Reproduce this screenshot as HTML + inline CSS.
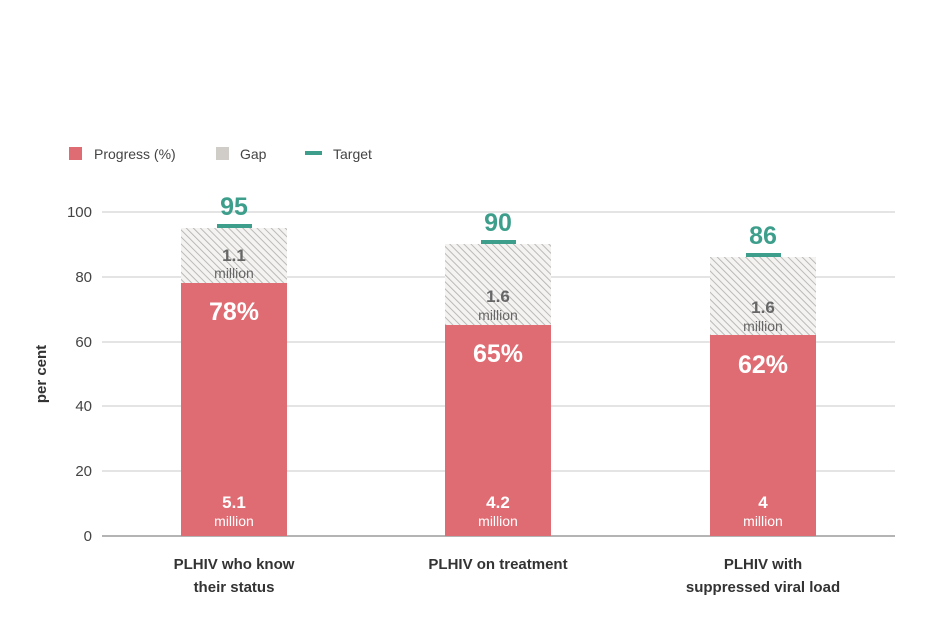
<!DOCTYPE html>
<html><head><meta charset="utf-8"><style>body{margin:0;background:#fff}svg{display:block}</style></head><body>
<svg width="944" height="637" viewBox="0 0 944 637" font-family="Liberation Sans, sans-serif">
<defs>
<pattern id="h" patternUnits="userSpaceOnUse" width="5" height="5" patternTransform="rotate(-45)">
<rect width="5" height="5" fill="#f4f3f2"/>
<line x1="0" y1="0" x2="0" y2="5" stroke="#b5b3b0" stroke-width="1.8"/>
</pattern>
</defs>
<rect x="69" y="147" width="13" height="13" fill="#e06c73"/>
<text x="94" y="159" font-size="14" fill="#444">Progress (%)</text>
<rect x="216" y="147" width="13" height="13" fill="#d0ccc8"/>
<text x="240" y="159" font-size="14" fill="#444">Gap</text>
<rect x="305" y="151" width="17" height="4" fill="#3d9e8c"/>
<text x="333" y="159" font-size="14" fill="#444">Target</text>
<g stroke="#c8c8c8" stroke-width="1">
<line x1="102" y1="212" x2="895" y2="212"/>
<line x1="102" y1="277" x2="895" y2="277"/>
<line x1="102" y1="342" x2="895" y2="342"/>
<line x1="102" y1="406" x2="895" y2="406"/>
<line x1="102" y1="471" x2="895" y2="471"/>
</g>
<line x1="102" y1="536" x2="895" y2="536" stroke="#888" stroke-width="1.2"/>
<g font-size="15" fill="#444" text-anchor="end">
<text x="92" y="217">100</text><text x="92" y="282">80</text><text x="92" y="347">60</text>
<text x="92" y="411">40</text><text x="92" y="476">20</text><text x="92" y="541">0</text>
</g>
<text transform="translate(46,374) rotate(-90)" font-size="15" font-weight="bold" fill="#333" text-anchor="middle">per cent</text>
<g>
<rect x="181" y="228" width="106" height="55" fill="url(#h)"/>
<rect x="181" y="283" width="106" height="253" fill="#e06c73"/>
<rect x="217" y="224" width="35" height="4" fill="#3d9e8c"/>
<text x="234" y="215" font-size="25" font-weight="bold" fill="#3d9e8c" text-anchor="middle">95</text>
<text x="234" y="261" font-size="17" font-weight="bold" fill="#666" text-anchor="middle">1.1</text>
<text x="234" y="278" font-size="14" fill="#666" text-anchor="middle">million</text>
<text x="234" y="320" font-size="25" font-weight="bold" fill="#fff" text-anchor="middle">78%</text>
<text x="234" y="508" font-size="17" font-weight="bold" fill="#fff" text-anchor="middle">5.1</text>
<text x="234" y="526" font-size="14" fill="#fff" text-anchor="middle">million</text>
</g>
<g>
<rect x="445" y="244" width="106" height="81" fill="url(#h)"/>
<rect x="445" y="325" width="106" height="211" fill="#e06c73"/>
<rect x="481" y="240" width="35" height="4" fill="#3d9e8c"/>
<text x="498" y="231" font-size="25" font-weight="bold" fill="#3d9e8c" text-anchor="middle">90</text>
<text x="498" y="302" font-size="17" font-weight="bold" fill="#666" text-anchor="middle">1.6</text>
<text x="498" y="320" font-size="14" fill="#666" text-anchor="middle">million</text>
<text x="498" y="362" font-size="25" font-weight="bold" fill="#fff" text-anchor="middle">65%</text>
<text x="498" y="508" font-size="17" font-weight="bold" fill="#fff" text-anchor="middle">4.2</text>
<text x="498" y="526" font-size="14" fill="#fff" text-anchor="middle">million</text>
</g>
<g>
<rect x="710" y="257" width="106" height="78" fill="url(#h)"/>
<rect x="710" y="335" width="106" height="201" fill="#e06c73"/>
<rect x="746" y="253" width="35" height="4" fill="#3d9e8c"/>
<text x="763" y="244" font-size="25" font-weight="bold" fill="#3d9e8c" text-anchor="middle">86</text>
<text x="763" y="313" font-size="17" font-weight="bold" fill="#666" text-anchor="middle">1.6</text>
<text x="763" y="331" font-size="14" fill="#666" text-anchor="middle">million</text>
<text x="763" y="373" font-size="25" font-weight="bold" fill="#fff" text-anchor="middle">62%</text>
<text x="763" y="508" font-size="17" font-weight="bold" fill="#fff" text-anchor="middle">4</text>
<text x="763" y="526" font-size="14" fill="#fff" text-anchor="middle">million</text>
</g>
<g font-size="15" font-weight="bold" fill="#333" text-anchor="middle">
<text x="234" y="569">PLHIV who know</text><text x="234" y="592">their status</text>
<text x="498" y="569">PLHIV on treatment</text>
<text x="763" y="569">PLHIV with</text><text x="763" y="592">suppressed viral load</text>
</g>
</svg>
</body></html>
